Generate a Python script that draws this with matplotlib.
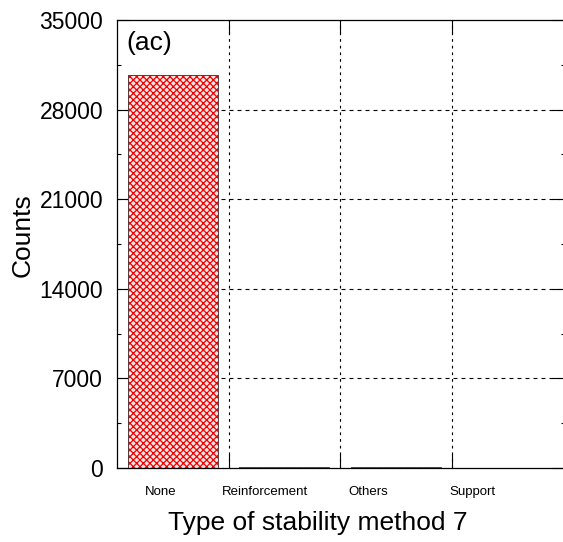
import matplotlib
matplotlib.use("Agg")
import matplotlib.pyplot as plt
from matplotlib.ticker import MultipleLocator, FixedLocator, NullFormatter

plt.rcParams['font.family'] = ['Liberation Sans', 'DejaVu Sans']
plt.rcParams['hatch.linewidth'] = 0.9

# Counts per stability-method category
categories = ["None", "Reinforcement", "Others", "Support"]
counts = [30740, 45, 40, 35]
y_ticks = [0, 7000, 14000, 21000, 28000, 35000]

fig = plt.figure(figsize=(5.63, 5.42), dpi=100)
ax = fig.add_axes([117 / 563, 74 / 542, 448 / 563, 448 / 542])

x = list(range(len(categories)))
# hatched fill, then a thin outline on top
ax.bar(x, counts, width=0.81, facecolor="#ffe6e6", edgecolor="#f00000",
       hatch="xxxxx", linewidth=0, zorder=2)
ax.bar(x, counts, width=0.81, facecolor="none", edgecolor="#5a3a3a",
       linewidth=0.7, zorder=3)

ax.set_xlim(-0.5, 3.5 + 2 / 112)
ax.set_ylim(0, 35000)

# y axis: major + minor ticks, inward on both sides
ax.yaxis.set_major_locator(FixedLocator(y_ticks))
ax.yaxis.set_minor_locator(MultipleLocator(3500))
ax.tick_params(axis="y", which="major", direction="in", length=9.4, width=0.8,
               left=True, right=True, labelsize=16.5, pad=10)
ax.tick_params(axis="y", which="minor", direction="in", length=3, width=0.8,
               left=True, right=True)

# x axis: boundary ticks between categories, labels without tick marks
bounds = [i + 0.5 for i in range(len(categories) - 1)]
ax.xaxis.set_minor_locator(FixedLocator(bounds))
ax.xaxis.set_minor_formatter(NullFormatter())
label_pos = [-0.109 + 0.932 * i for i in x]
ax.set_xticks(label_pos)
ax.set_xticklabels(categories)
ax.tick_params(axis="x", which="major", length=0, labelsize=9.5, pad=13)
ax.tick_params(axis="x", which="minor", direction="in", length=10, width=0.8,
               bottom=True, top=True)

# dashed grid
for yv in y_ticks[1:-1]:
    ax.axhline(yv, color="black", lw=0.8, ls=(0, (3.6, 3.6)), zorder=1)
for b in bounds:
    ax.axvline(b, color="black", lw=0.8, ls=(0, (2.5, 3.5)), zorder=1)

for s in ax.spines.values():
    s.set_linewidth(0.9)

ax.set_xlabel("Type of stability method 7", fontsize=19)
ax.xaxis.set_label_coords(0.448, -0.095)
ax.set_ylabel("Counts", fontsize=19)
ax.yaxis.set_label_coords(-0.184, 0.52)

ax.text(0.022, 0.975, "(ac)", transform=ax.transAxes, fontsize=19,
        ha="left", va="top")

fig.savefig("out.png", dpi=100, facecolor="white")
